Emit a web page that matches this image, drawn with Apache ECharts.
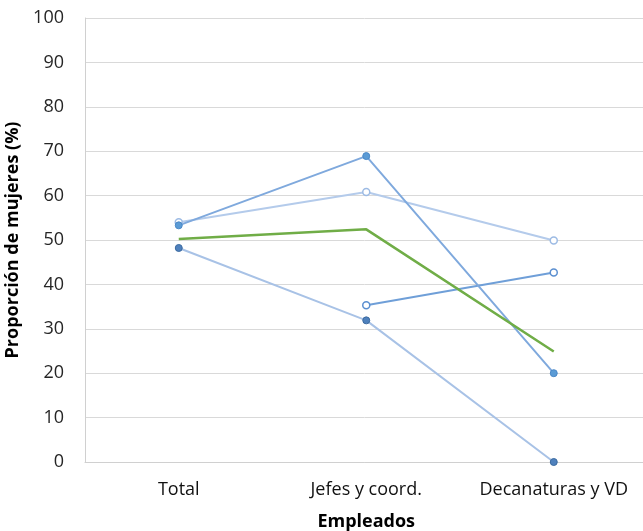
<!DOCTYPE html>
<html>
<head>
<meta charset="utf-8">
<script src="https://cdn.jsdelivr.net/npm/echarts@6/dist/echarts.min.js"></script>
<style>
  html, body { margin: 0; padding: 0; background: #fff; }
  #chart { width: 643px; height: 531px; }
</style>
</head>
<body>
<div id="chart"></div>
<script>
// Categorías del eje X
const categorias = ['Total', 'Jefes y coord.', 'Decanaturas y VD'];

// Proporción de mujeres (%) por grupo
const serieA = [53.3, 68.9, 20.0];
const serieB = [54.0, 60.8, 49.9];
const serieC = [48.2, 31.9, 0.0];
const serieD = [null, 35.3, 42.7];
const promedio = [50.2, 52.4, 24.9];

const yTicks = { min: 0, max: 100, interval: 10 };

const chart = echarts.init(document.getElementById('chart'), null, { renderer: 'canvas' });

function linea(nombre, datos, lineColor, markerFill, markerBorder, hollow) {
  return {
    name: nombre,
    type: 'line',
    data: datos,
    symbol: 'circle',
    symbolSize: 7,
    connectNulls: false,
    lineStyle: { color: lineColor, width: 2 },
    itemStyle: {
      color: hollow ? '#ffffff' : markerFill,
      borderColor: markerBorder,
      borderWidth: hollow ? 1.5 : 1
    },
    emphasis: { disabled: true },
    z: 3
  };
}

chart.setOption({
  animation: false,
  grid: {
    left: 85, top: 18, width: 562.5, height: 444,
    containLabel: false, outerBoundsMode: 'none'
  },
  xAxis: {
    type: 'category',
    data: categorias,
    boundaryGap: true,
    name: 'Empleados',
    nameLocation: 'middle',
    nameGap: 51,
    nameTextStyle: { fontFamily: 'Open Sans', fontSize: 18, fontWeight: 'bold', color: '#000' },
    axisLine: { lineStyle: { color: '#d0d0d0', width: 1 } },
    axisTick: { show: false },
    axisLabel: {
      interval: 0, hideOverlap: false,
      fontFamily: 'Open Sans', fontSize: 18, color: '#111', margin: 19
    }
  },
  yAxis: {
    type: 'value',
    min: yTicks.min,
    max: yTicks.max,
    interval: yTicks.interval,
    name: 'Proporción de mujeres (%)',
    nameLocation: 'middle',
    nameGap: 61,
    nameRotate: 90,
    nameTextStyle: { fontFamily: 'Open Sans', fontSize: 18, fontWeight: 'bold', color: '#000' },
    axisLine: { show: true, lineStyle: { color: '#d0d0d0', width: 1 } },
    axisTick: { show: false },
    axisLabel: { fontFamily: 'Open Sans', fontSize: 18, color: '#262626', margin: 21 },
    splitLine: { lineStyle: { color: '#d9d9d9', width: 1 } }
  },
  series: [
    linea('Serie B', serieB, '#b4cbeb', '#ffffff', '#9dbbe4', true),
    linea('Serie C', serieC, '#a8c2e6', '#4f81bd', '#3b6aa0', false),
    linea('Serie D', serieD, '#6f9fd8', '#ffffff', '#5b8fd0', true),
    linea('Serie A', serieA, '#7fa9dd', '#5b9bd5', '#4a88c7', false),
    {
      name: 'Promedio',
      type: 'line',
      data: promedio,
      symbol: 'none',
      lineStyle: { color: '#70ad47', width: 2.5 },
      emphasis: { disabled: true },
      z: 4
    }
  ]
});
</script>
</body>
</html>
